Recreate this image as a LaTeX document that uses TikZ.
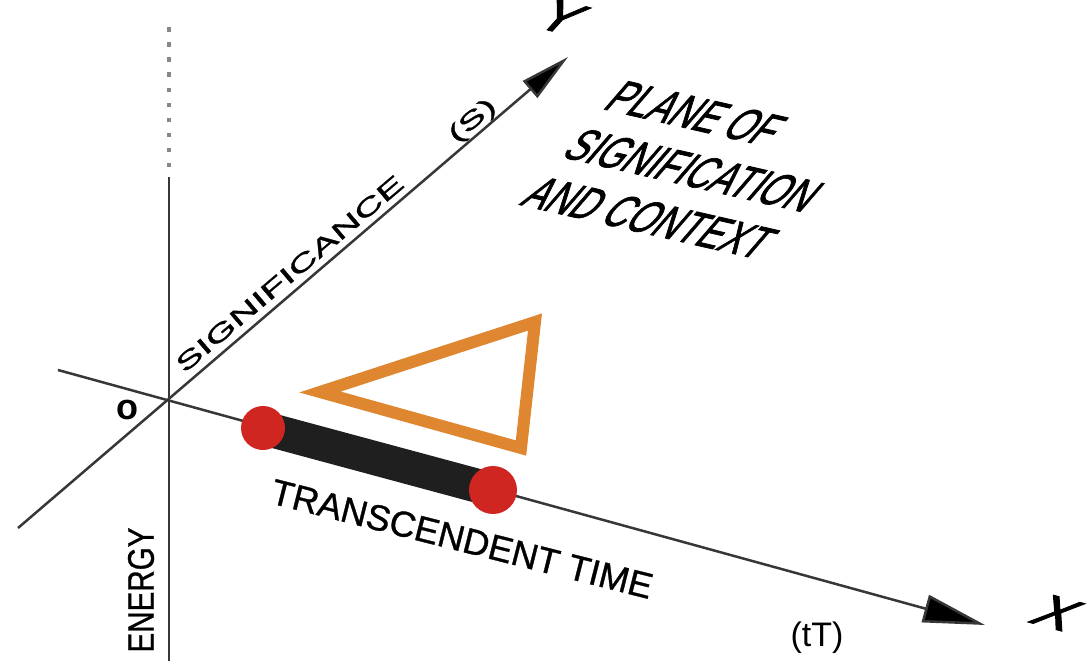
\documentclass[tikz,border=0pt]{standalone}
\usepackage{fontspec}
\setmainfont{Liberation Sans}
\newfontfamily\heavysans[FakeBold=1.6]{Liberation Sans}
\newfontfamily\mediumsans[FakeBold=0.9]{Liberation Sans}
\usetikzlibrary{arrows.meta}
\definecolor{axisgray}{RGB}{55,55,55}
\definecolor{dotred}{RGB}{208,38,34}
\definecolor{triorange}{RGB}{222,134,48}
\begin{document}
\begin{tikzpicture}[x=1pt, y=-1pt,
  axis/.style={draw=axisgray, line width=2.5pt},
  endpoint/.style={circle, fill=dotred, inner sep=0pt},
  alonglabel/.style={font=\mediumsans\fontsize{24}{28}\selectfont, rotate=40.3, xscale=1.7, anchor=base, inner sep=0pt},
  planeletter/.style={font=\heavysans\fontsize{40}{48}\selectfont, cm={1.37,-0.37,0.895,0.99,(0,0)}, inner sep=0pt},
  planetext/.style={font=\heavysans\fontsize{40}{47}\selectfont, cm={0.83,-0.19,0.88,1.02,(0,0)}, inner sep=0pt, align=left}]
\useasboundingbox (0,0) rectangle (1092,661);
% Ejes
\coordinate (O) at (169,400);
\coordinate (xstart) at (58,370);
\coordinate (xend) at (985,625);
\coordinate (ystart) at (18,528);
\coordinate (yend) at (568,57);
\coordinate (ztop) at (169,177);
\coordinate (zdots) at (169,167);
\coordinate (zfade) at (169,24);
\coordinate (zbottom) at (169,661);
\draw[axis] (ztop) -- (zbottom);
\draw[draw=axisgray!60, line width=4.5pt, dash pattern=on 4.5pt off 10.5pt] (zdots) -- (zfade);
\draw[axis, -{Triangle[length=62pt, width=28pt, fill=black]}] (xstart) -- (xend);
\draw[axis, -{Triangle[length=50pt, width=22pt, fill=black]}] (ystart) -- (yend);
% Tiempo trascendente
\coordinate (tstart) at (263,428);
\coordinate (tend) at (493,490);
\draw[line width=34pt, black!88] (tstart) -- (tend);
\node[endpoint, minimum size=44pt] (startdot) at (tstart) {};
\node[endpoint, minimum size=48pt] (enddot) at (tend) {};
% Triangulo
\coordinate (tri1) at (320,392);
\coordinate (tri2) at (535,322);
\coordinate (tri3) at (521,448);
\draw[triorange, line width=12pt, line join=miter] (tri1) -- (tri2) -- (tri3) -- cycle;
% Etiquetas
\node[alonglabel] (signif) at (295,280) {SIGNIFICANCE};
\node[alonglabel] (sunit) at (477,126) {(S)};
\node[font=\mediumsans\fontsize{36}{40}\selectfont, rotate=-14.2, anchor=base, inner sep=0pt] (ttime) at (459,551) {TRANSCENDENT TIME};
\node[font=\mediumsans\fontsize{37}{40}\selectfont, rotate=90, xscale=0.8, inner sep=0pt] (energy) at (141,590) {ENERGY};
\node[font=\bfseries\fontsize{36}{40}\selectfont, inner sep=0pt] (origin) at (127,410) {o};
\node[font=\fontsize{34}{38}\selectfont, inner sep=0pt] (tunit) at (817,638) {(tT)};
\node[planeletter] (xlabel) at (1057,613) {X};
\node[planeletter] (ylabel) at (562,17) {Y};
\node[planetext, anchor=north west] (plane) at (626,80) {PLANE OF\\SIGNIFICATION\\AND CONTEXT};
\end{tikzpicture}
\end{document}
